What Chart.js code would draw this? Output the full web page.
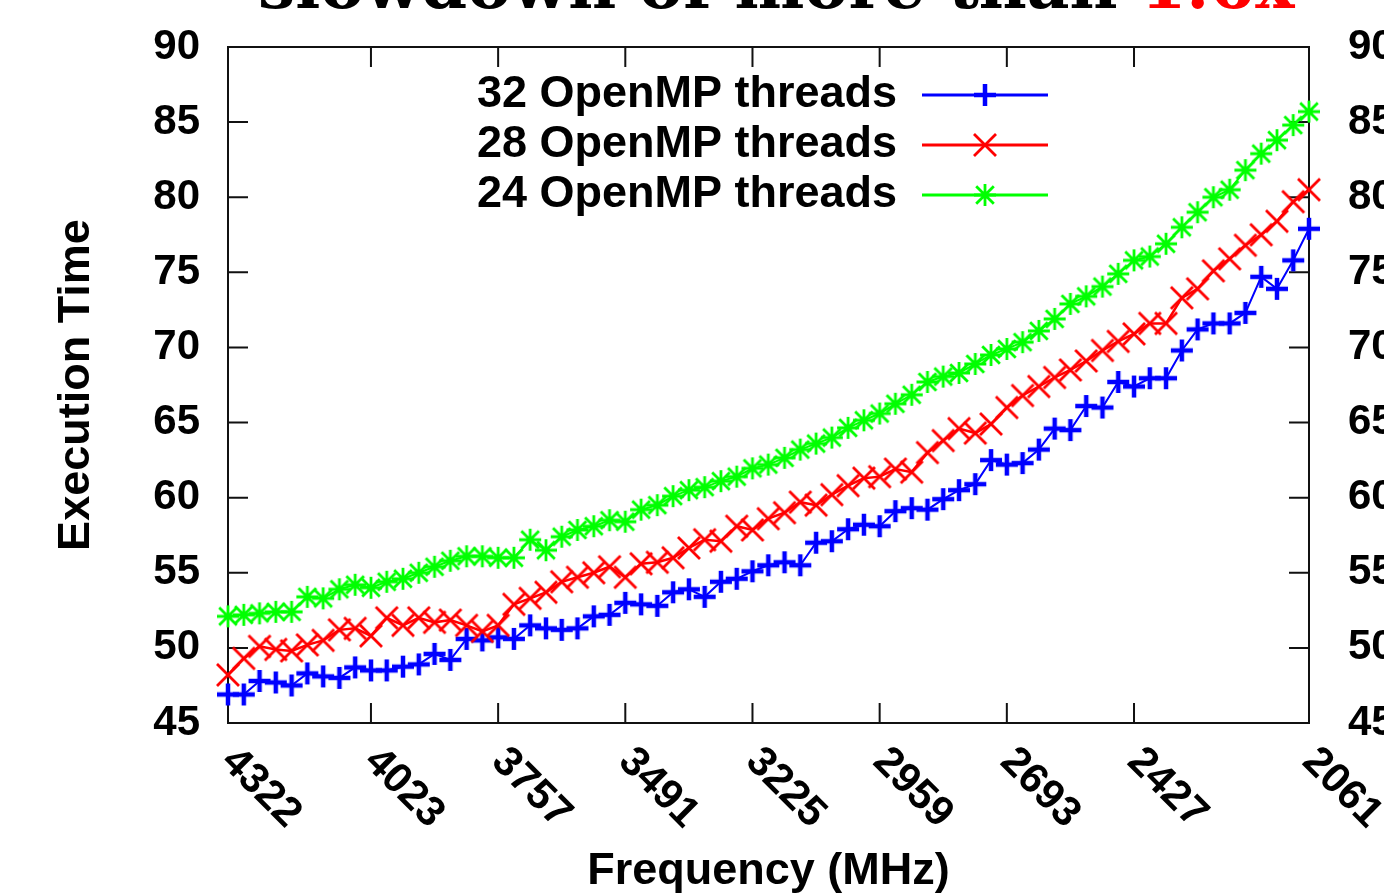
<!DOCTYPE html>
<html><head><meta charset="utf-8">
<script src="https://cdn.jsdelivr.net/npm/chart.js@4"></script>
<style>html,body{margin:0;padding:0;background:#fff;overflow:hidden}#wrap{position:relative;width:1384px;height:894px;overflow:hidden}canvas{display:block}</style>
</head><body><div id="wrap"><canvas id="c" width="1384" height="894"></canvas></div>
<script>
// ---- data ----
const frequencies = [4322, 4289, 4256, 4222, 4189, 4156, 4123, 4089, 4056, 4023,
  3990, 3956, 3923, 3890, 3857, 3823, 3790, 3757,
  3724, 3690, 3657, 3624, 3591, 3557, 3524, 3491,
  3458, 3424, 3391, 3358, 3325, 3291, 3258, 3225,
  3192, 3158, 3125, 3092, 3059, 3025, 2992, 2959,
  2926, 2892, 2859, 2826, 2793, 2759, 2726, 2693,
  2660, 2626, 2593, 2560, 2527, 2493, 2460, 2427,
  2394, 2360, 2327, 2294, 2261, 2227, 2194, 2161, 2128, 2094, 2061];
const time32 = [46.9, 46.9, 47.8, 47.7, 47.5, 48.3, 48.1, 48.0, 48.7, 48.5,
  48.5, 48.75, 48.9, 49.6, 49.2, 50.6, 50.5, 50.7, 50.6, 51.5,
  51.3, 51.2, 51.3, 52.1, 52.2, 53.0, 52.9, 52.8, 53.7, 53.9,
  53.4, 54.4, 54.6, 55.1, 55.5, 55.7, 55.5, 57.0, 57.1, 57.9,
  58.2, 58.1, 59.1, 59.3, 59.2, 59.9, 60.5, 60.9, 62.5, 62.2,
  62.3, 63.2, 64.6, 64.5, 66.1, 66.0, 67.7, 67.4, 67.95, 67.95,
  69.8, 71.2, 71.6, 71.6, 72.3, 74.7, 73.9, 75.8, 77.9];
const time28 = [48.2, 49.3, 50.1, 49.9, 49.8, 50.2, 50.5, 51.2, 51.3, 50.8,
  52.0, 51.5, 52.0, 51.7, 51.85, 51.5, 51.1, 51.5, 52.9, 53.3,
  53.7, 54.4, 54.7, 55.0, 55.4, 54.7, 55.6, 55.7, 56.0, 56.65,
  57.2, 57.1, 58.1, 57.85, 58.6, 59.0, 59.7, 59.5, 60.2, 60.8,
  61.3, 61.4, 61.9, 61.7, 63.0, 63.8, 64.6, 64.3, 64.9, 66.0,
  66.8, 67.4, 68.0, 68.5, 69.1, 69.8, 70.4, 70.9, 71.6, 71.6,
  73.3, 73.9, 75.1, 75.9, 76.8, 77.5, 78.4, 79.7, 80.5];
const time24 = [52.1, 52.2, 52.3, 52.4, 52.4, 53.4, 53.3, 53.9, 54.2, 54.0,
  54.4, 54.6, 55.0, 55.4, 55.8, 56.1, 56.1, 56.0, 56.0, 57.2,
  56.5, 57.4, 57.85, 58.1, 58.5, 58.4, 59.2, 59.5, 60.1, 60.5,
  60.7, 61.1, 61.4, 61.95, 62.2, 62.65, 63.2, 63.6, 64.0, 64.65,
  65.15, 65.6, 66.25, 66.85, 67.7, 68.06, 68.3, 68.9, 69.5, 69.9,
  70.35, 71.1, 71.9, 72.9, 73.4, 74.05, 74.9, 75.8, 76.05, 76.9,
  78.0, 79.0, 80.0, 80.5, 81.8, 82.9, 83.8, 84.8, 85.7];
const xTickValues = [4322, 4023, 3757, 3491, 3225, 2959, 2693, 2427, 2061];
const seriesLabels = ['32 OpenMP threads', '28 OpenMP threads', '24 OpenMP threads'];
const titleParts = ['slowdown of more than ', '1.6x'];
const xTitle = 'Frequency (MHz)';
const yTitle = 'Execution Time';

// ---- styles ----
const SANS = '"Liberation Sans", Arial, sans-serif';
const SERIF = '"DejaVu Serif", "Liberation Serif", serif';
const TICK_FONT = {family: SANS, size: 42, weight: 'bold'};

// gnuplot-like marker sprites: '+', 'x', '*'
function makeMarker(kind, color, half, width) {
  const pad = Math.ceil(width) + 1;
  const size = 2 * (half + pad);
  const cv = document.createElement('canvas');
  cv.width = size; cv.height = size;
  const g = cv.getContext('2d');
  const c = size / 2;
  g.strokeStyle = color; g.lineWidth = width; g.lineCap = 'butt';
  g.beginPath();
  if (kind === 'plus' || kind === 'star') {
    g.moveTo(c - half, c); g.lineTo(c + half, c);
    g.moveTo(c, c - half); g.lineTo(c, c + half);
  }
  if (kind === 'cross' || kind === 'star') {
    const d = kind === 'star' ? half * 0.8 : half;
    g.moveTo(c - d, c - d); g.lineTo(c + d, c + d);
    g.moveTo(c - d, c + d); g.lineTo(c + d, c - d);
  }
  g.stroke();
  return cv;
}
const markerBlue = makeMarker('plus', '#0000ff', 11, 4.5);
const markerRed = makeMarker('cross', '#ff0000', 11, 2.8);
const markerGreen = makeMarker('star', '#00ff00', 11, 2.8);

const framePlugin = {
  id: 'frame',
  beforeDatasetsDraw(chart) {
    const {ctx, chartArea: a, scales} = chart;
    ctx.save();
    ctx.strokeStyle = '#111';
    ctx.lineWidth = 2;
    ctx.strokeRect(a.left, a.top, a.right - a.left, a.bottom - a.top);
    const T = 20;
    ctx.beginPath();
    scales.x.ticks.forEach(t => {
      const px = scales.x.getPixelForValue(t.value);
      ctx.moveTo(px, a.bottom); ctx.lineTo(px, a.bottom - T);
      ctx.moveTo(px, a.top); ctx.lineTo(px, a.top + T);
    });
    scales.y.ticks.forEach(t => {
      const py = scales.y.getPixelForValue(t.value);
      ctx.moveTo(a.left, py); ctx.lineTo(a.left + T, py);
      ctx.moveTo(a.right, py); ctx.lineTo(a.right - T, py);
    });
    ctx.stroke();
    ctx.restore();
  },
  afterDraw(chart) {
    const {ctx, scales} = chart;
    ctx.save();
    ctx.fillStyle = '#000';
    ctx.font = `bold ${TICK_FONT.size}px ${SANS}`;
    ctx.textAlign = 'left';
    ctx.textBaseline = 'middle';
    scales.x.ticks.forEach(t => {
      const px = scales.x.getPixelForValue(t.value);
      ctx.save();
      ctx.translate(px, 755);
      ctx.rotate(Math.PI / 4);
      ctx.fillText(String(t.value), 0, 0);
      ctx.restore();
    });
    ctx.restore();
  }
};

const legendPlugin = {
  id: 'insideLegend',
  afterDatasetsDraw(chart) {
    const ctx = chart.ctx;
    ctx.save();
    ctx.font = `bold 45px ${SANS}`;
    ctx.textAlign = 'right';
    ctx.textBaseline = 'middle';
    chart.data.datasets.forEach((ds, i) => {
      const y = 95 + 50 * i;
      ctx.fillStyle = '#000';
      ctx.fillText(ds.label, 897, y);
      ctx.strokeStyle = ds.borderColor;
      ctx.lineWidth = 3;
      ctx.beginPath(); ctx.moveTo(922, y); ctx.lineTo(1048, y); ctx.stroke();
      const img = ds.pointStyle;
      ctx.drawImage(img, 985 - img.width / 2, y - img.height / 2);
    });
    ctx.restore();
  }
};

const titlePlugin = {
  id: 'clippedTitle',
  afterDraw(chart) {
    const ctx = chart.ctx;
    ctx.save();
    ctx.font = `bold 100px ${SERIF}`;
    const w100 = ctx.measureText(titleParts.join('')).width;
    const size = 100 * 1037 / w100;
    ctx.font = `bold ${size}px ${SERIF}`;
    ctx.textAlign = 'left';
    ctx.textBaseline = 'alphabetic';
    let x = 258;
    ctx.fillStyle = '#000';
    ctx.fillText(titleParts[0], x, 8);
    x += ctx.measureText(titleParts[0]).width;
    ctx.fillStyle = '#ff0000';
    ctx.fillText(titleParts[1], x, 8);
    ctx.restore();
  }
};

const mk = (label, data, color, marker, lw, order) => ({
  label, data, borderColor: color, backgroundColor: color,
  borderWidth: lw, pointStyle: marker, pointRadius: 11, pointHoverRadius: 11,
  tension: 0, fill: false, clip: false, order
});

new Chart(document.getElementById('c'), {
  type: 'line',
  data: {
    labels: frequencies,
    datasets: [
      mk(seriesLabels[0], time32, '#0000ff', markerBlue, 2, 3),
      mk(seriesLabels[1], time28, '#ff0000', markerRed, 2.5, 2),
      mk(seriesLabels[2], time24, '#00ff00', markerGreen, 2, 1)
    ]
  },
  options: {
    responsive: false, animation: false, devicePixelRatio: 1,
    layout: {padding: {left: 0, right: 0, top: 47, bottom: 0}},
    plugins: {legend: {display: false}, tooltip: {enabled: false}},
    scales: {
      x: {
        type: 'linear', reverse: true, min: 2061, max: 4322,
        afterBuildTicks: s => { s.ticks = xTickValues.map(v => ({value: v})); },
        afterFit: s => { s.height = 171; },
        grid: {display: false, drawTicks: false}, border: {display: false},
        ticks: {display: false},
        title: {display: true, text: xTitle, color: '#000',
          font: {family: SANS, size: 45, weight: 'bold', lineHeight: 1},
          padding: {top: 0, bottom: 0}}
      },
      y: {
        position: 'left', min: 45, max: 90,
        afterFit: s => { s.width = 228; },
        grid: {display: false, drawTicks: true, tickLength: 28}, border: {display: false},
        ticks: {stepSize: 5, color: '#000', font: TICK_FONT, padding: 0},
        title: {display: true, text: yTitle, color: '#000',
          font: {family: SANS, size: 45, weight: 'bold', lineHeight: 1},
          padding: {top: 54, bottom: 0}}
      },
      y2: {
        position: 'right', min: 45, max: 90,
        afterFit: s => { s.width = 75; },
        grid: {display: false, drawTicks: true, tickLength: 39}, border: {display: false},
        ticks: {stepSize: 5, color: '#000', font: TICK_FONT, padding: 0}
      }
    }
  },
  plugins: [framePlugin, legendPlugin, titlePlugin]
});
</script>
</body></html>
